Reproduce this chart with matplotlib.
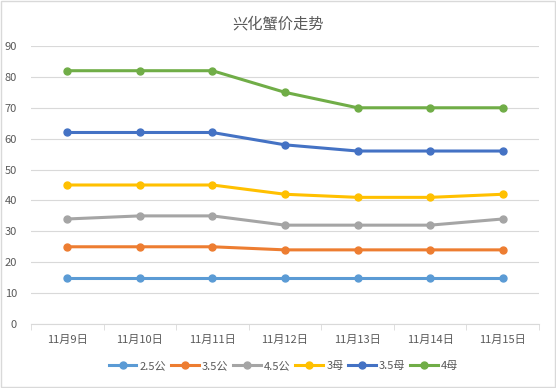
import matplotlib.pyplot as plt
import numpy as np

plt.rcParams['font.family'] = ['Noto Sans CJK SC', 'DejaVu Sans']

dates = ["11月9日", "11月10日", "11月11日", "11月12日", "11月13日", "11月14日", "11月15日"]
s_25gong = [15, 15, 15, 15, 15, 15, 15]
s_35gong = [25, 25, 25, 24, 24, 24, 24]
s_45gong = [34, 35, 35, 32, 32, 32, 34]
s_3mu = [45, 45, 45, 42, 41, 41, 42]
s_35mu = [62, 62, 62, 58, 56, 56, 56]
s_4mu = [82, 82, 82, 75, 70, 70, 70]

series = [
    ("2.5公", s_25gong, "#5B9BD5"),
    ("3.5公", s_35gong, "#ED7D31"),
    ("4.5公", s_45gong, "#A5A5A5"),
    ("3母", s_3mu, "#FFC000"),
    ("3.5母", s_35mu, "#4472C4"),
    ("4母", s_4mu, "#70AD47"),
]

fig = plt.figure(figsize=(5.56, 3.88), dpi=100)
ax = fig.add_axes([31/556, 64/388, 508/556, 278/388])

x = np.arange(len(dates))
for name, vals, color in series:
    ax.plot(x, vals, color=color, lw=2.2, marker='o', ms=5, label=name)

ax.set_xlim(-0.5, len(dates) - 0.5)
ax.set_ylim(0, 90)
ax.set_yticks(range(0, 91, 10))
ax.set_xticks(x)
ax.set_xticklabels(dates)
ax.set_xticks(np.arange(-0.5, len(dates), 1), minor=True)
ax.tick_params(axis='x', which='major', length=0, pad=8)
ax.tick_params(axis='x', which='minor', length=4, color='#D9D9D9')
ax.tick_params(axis='y', length=0, pad=10)
ax.tick_params(labelsize=8, labelcolor='#595959')
ax.grid(axis='y', color='#D9D9D9', lw=0.8)
ax.set_axisbelow(True)
for sp in ['top', 'right', 'left']:
    ax.spines[sp].set_visible(False)
ax.spines['bottom'].set_color('#D9D9D9')

fig.suptitle("兴化蟹价走势", y=0.96, fontsize=11, color='#595959')

fig.legend(loc='center', bbox_to_anchor=(0.51, 22/388), ncol=6, frameon=False,
           fontsize=8, labelcolor='#595959', handlelength=2.5, handletextpad=0.3,
           columnspacing=0.4)

fig.patches.append(plt.Rectangle((0.002, 0.002), 0.996, 0.996, transform=fig.transFigure,
                                 fill=False, ec='#D9D9D9', lw=1))

fig.savefig("out.png", dpi=100)
